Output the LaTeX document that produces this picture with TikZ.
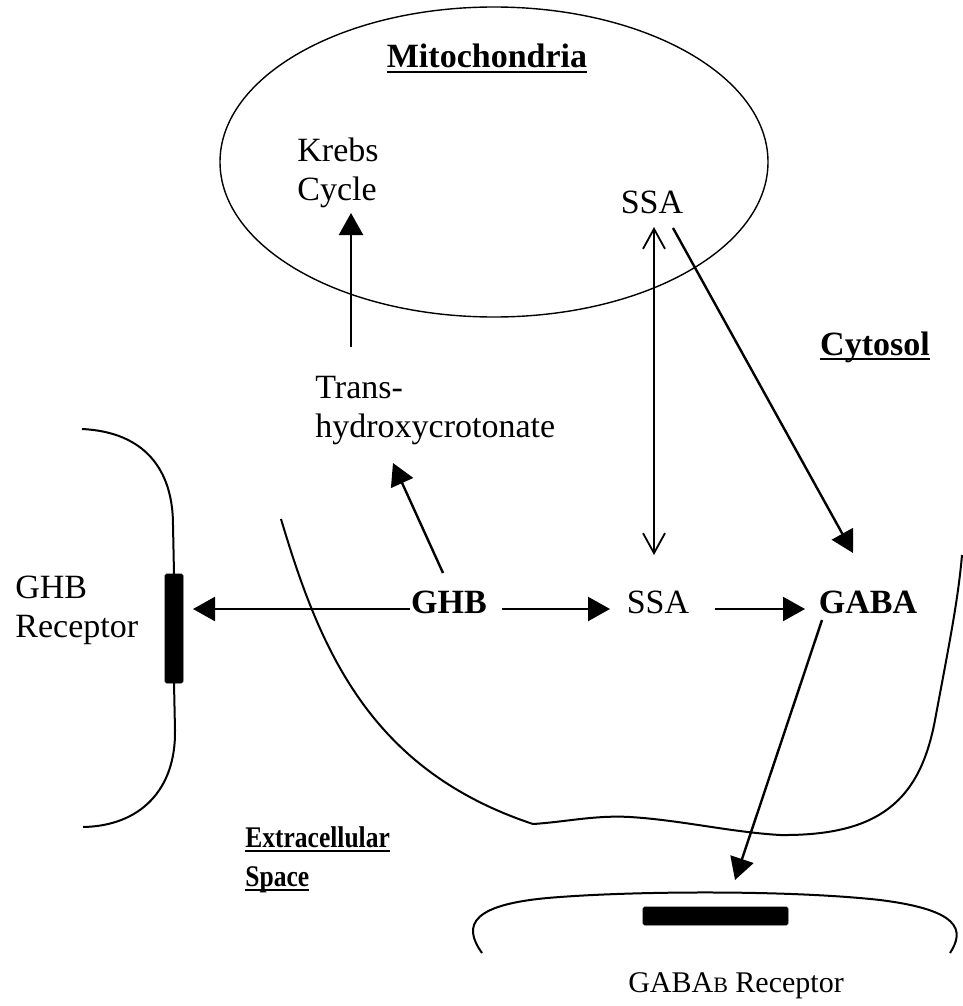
\documentclass[tikz,border=0pt]{standalone}
\usepackage{fontspec}
\setmainfont{Liberation Serif}
\newfontfamily\condserif[FakeStretch=0.85]{Liberation Serif}
\usetikzlibrary{arrows.meta}
\newlength\ulw
\newcommand\myul[1]{\settowidth\ulw{#1}\rlap{\rule[-2.5pt]{\ulw}{1pt}}#1}
\begin{document}
\begin{tikzpicture}[x=0.5pt,y=-0.5pt,
  every node/.style={inner sep=0pt},
  txt/.style={font=\fontsize{17}{20}\selectfont},
  btxt/.style={font=\fontsize{17}{20}\selectfont\bfseries},
  sbtxt/.style={font=\condserif\fontsize{15}{18}\selectfont\bfseries},
  rtxt/.style={font=\fontsize{15}{18}\selectfont},
  lbl/.style={anchor=base},
  lblw/.style={anchor=base west},
  membrane/.style={line width=1pt},
  mitoline/.style={line width=0.7pt},
  fat/.style={line width=1.2pt, -{Triangle[length=11pt,width=12pt]}},
  thinboth/.style={line width=0.9pt, {Straight Barb[length=10pt,width=11pt]}-{Straight Barb[length=10pt,width=11pt]}},
  recbar/.style={fill=black, rounded corners=0.8pt}]

\useasboundingbox (0,0) rectangle (963,1006);

% mitochondrion
\draw[mitoline] (494,162) ellipse [x radius=137pt, y radius=77.5pt];

% left cell membrane with GHB receptor
\draw[membrane] (82,429) .. controls (145,432) and (173,470) .. (173,525) -- (174,574);
\draw[membrane] (174,683) -- (175,730) .. controls (176,790) and (140,826) .. (83,827);
\draw[recbar] (165,574) rectangle (183,683);

% cytosol cell membrane
\draw[membrane] (281,519) .. controls (320,650) and (370,770) .. (533,824)
  .. controls (565,822) and (595,815) .. (630,817)
  .. controls (680,820) and (730,832) .. (780,835)
  .. controls (880,836) and (920,800) .. (935,720)
  .. controls (950,640) and (958,600) .. (962,555);

% GABA_B receptor membrane
\draw[membrane] (482,953) .. controls (462,925) and (470,903) .. (560,897)
  .. controls (640,891) and (790,890) .. (880,900)
  .. controls (960,910) and (965,930) .. (950,953);
\draw[recbar] (643,907) rectangle (788,925);

% labels
\node[btxt, lbl] (mitolbl) at (487,68) {\myul{Mitochondria}};
\node[txt, lblw] (krebs) at (297,162) {Krebs};
\node[txt, lblw] (cycle) at (297,200) {Cycle};
\node[txt, lbl] (ssam) at (652,213) {SSA};
\node[btxt, lbl] (cyto) at (875,355) {\myul{Cytosol}};
\node[txt, lblw] (trans1) at (315,398) {Trans-};
\node[txt, lblw] (trans2) at (315,437) {hydroxycrotonate};
\node[txt, lblw] (ghbrec1) at (15,598) {GHB};
\node[txt, lblw] (ghbrec2) at (15,637) {Receptor};
\node[btxt, lbl] (ghb) at (449,613) {GHB};
\node[txt, lbl] (ssa) at (658,613) {SSA};
\node[btxt, lbl] (gaba) at (868,613) {GABA};
\node[sbtxt, lblw] (extra1) at (245,847) {\myul{Extracellular}};
\node[sbtxt, lblw] (extra2) at (245,886) {\myul{Space}};
\node[rtxt, lbl] (gababrec) at (736,992) {GABA{\fontsize{11}{11}\selectfont B} Receptor};

% connector end points
\coordinate (kA) at (351,347);
\coordinate (kB) at (351,213);
\coordinate (hA) at (443,573);
\coordinate (hB) at (393,463);
\coordinate (rA) at (410,609);
\coordinate (rB) at (193,609);
\coordinate (gA) at (502,609);
\coordinate (gB) at (610,609);
\coordinate (sA) at (715,609);
\coordinate (sB) at (805,609);
\coordinate (dA) at (654,227);
\coordinate (dB) at (654,555);
\coordinate (mA) at (673,228);
\coordinate (mB) at (853,553);
\coordinate (bA) at (822,620);
\coordinate (bB) at (735,880);

% connectors
\draw[fat] (kA) -- (kB);
\draw[fat] (hA) -- (hB);
\draw[fat] (rA) -- (rB);
\draw[fat] (gA) -- (gB);
\draw[fat] (sA) -- (sB);
\draw[thinboth] (dA) -- (dB);
\draw[fat] (mA) -- (mB);
\draw[fat] (bA) -- (bB);
\end{tikzpicture}
\end{document}
